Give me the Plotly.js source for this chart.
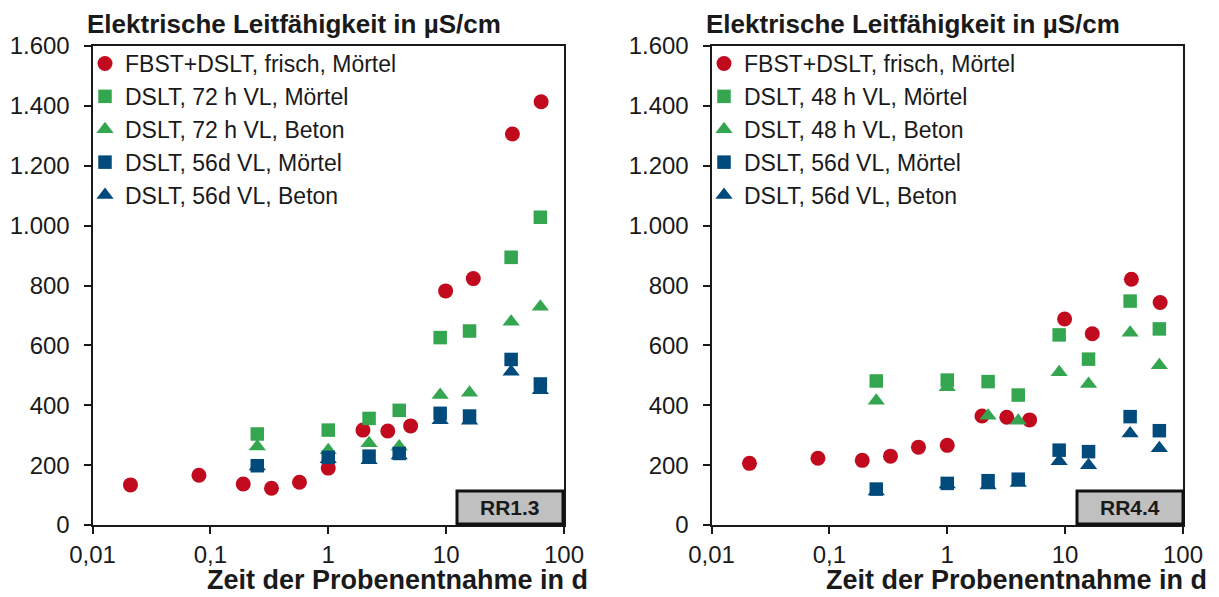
<!DOCTYPE html>
<html>
<head>
<meta charset="utf-8">
<script src="https://cdn.plot.ly/plotly-3.0.1.min.js"></script>
<style>
  html, body { margin: 0; padding: 0; background: #ffffff; }
  #chart { width: 1219px; height: 597px; }
</style>
</head>
<body>
<div id="chart"></div>
<script>
// ---------- data ----------
const chartTitle = "Elektrische Leitfähigkeit in µS/cm";
const xAxisTitle = "Zeit der Probenentnahme in d";
const panelLabels = ["RR1.3", "RR4.4"];

const xTickVals = [0.01, 0.1, 1, 10, 100];
const xTickText = ["0,01", "0,1", "1", "10", "100"];
const yTickVals = [0, 200, 400, 600, 800, 1000, 1200, 1400, 1600];
const yTickText = ["0", "200", "400", "600", "800", "1.000", "1.200", "1.400", "1.600"];

// sampling times in days
const xFresh = [0.021, 0.08, 0.19, 0.33, 0.57, 1, 1.97, 3.2, 5, 9.9, 17, 36.5, 64];
const xStored = [0.25, 1, 2.22, 4, 8.9, 15.8, 35.6, 63];

// left panel: RR1.3
const namesLeft = ["FBST+DSLT, frisch, Mörtel", "DSLT, 72 h VL, Mörtel", "DSLT, 72 h VL, Beton",
                   "DSLT, 56d VL, Mörtel", "DSLT, 56d VL, Beton"];
const leftFreshMortar   = [134, 166, 137, 123, 143, 190, 317, 314, 331, 782, 823, 1306, 1414];
const left72hMortar     = [304, 317, 356, 383, 626, 648, 894, 1028];
const left72hConcrete   = [262, 250, 273, 262, 434, 442, 679, 729];
const left56dMortar     = [198, 226, 230, 239, 373, 364, 553, 471];
const left56dConcrete   = [195, 220, 216, 232, 350, 348, 512, 450];

// right panel: RR4.4
const namesRight = ["FBST+DSLT, frisch, Mörtel", "DSLT, 48 h VL, Mörtel", "DSLT, 48 h VL, Beton",
                    "DSLT, 56d VL, Mörtel", "DSLT, 56d VL, Beton"];
const rightFreshMortar  = [206, 223, 216, 230, 260, 266, 364, 360, 351, 688, 639, 821, 743];
const right48hMortar    = [481, 484, 479, 434, 635, 554, 748, 655];
const right48hConcrete  = [415, 460, 365, 348, 510, 471, 642, 534];
const right56dMortar    = [120, 139, 148, 153, 250, 245, 362, 315];
const right56dConcrete  = [112, 135, 132, 140, 213, 200, 306, 256];

// ---------- styling ----------
const RED = "#c20a1f", GREEN = "#33a64f", BLUE = "#004a7c";
const FONT = "Liberation Sans, Arial, sans-serif";
const W = 1219, H = 597;
const px = v => v / W;          // pixel -> paper x
const py = v => (H - v) / H;    // pixel -> paper y

const styles = [
  {symbol: "circle", color: RED, size: 15},
  {symbol: "square", color: GREEN, size: 13.5},
  {symbol: "triangle-up", color: GREEN, size: 15},
  {symbol: "square", color: BLUE, size: 13.5},
  {symbol: "triangle-up", color: BLUE, size: 15}
];

function mk(x, y, name, st, xa, ya, leg) {
  return {
    type: "scatter", mode: "markers", x: x, y: y, name: name,
    xaxis: xa, yaxis: ya, legend: leg,
    marker: {symbol: st.symbol, color: st.color, size: st.size, line: {width: 0}},
    hoverinfo: "x+y+name"
  };
}

const leftSeries = [[xFresh, leftFreshMortar], [xStored, left72hMortar], [xStored, left72hConcrete],
                    [xStored, left56dMortar], [xStored, left56dConcrete]];
const rightSeries = [[xFresh, rightFreshMortar], [xStored, right48hMortar], [xStored, right48hConcrete],
                     [xStored, right56dMortar], [xStored, right56dConcrete]];

const traces = [];
leftSeries.forEach((s, i) => traces.push(mk(s[0], s[1], namesLeft[i], styles[i], "x", "y", "legend")));
rightSeries.forEach((s, i) => traces.push(mk(s[0], s[1], namesRight[i], styles[i], "x2", "y2", "legend2")));

const yDomain = [py(525), py(46)];

function xAxis(domain, anchor) {
  return {
    type: "log", range: [-2, 2], domain: domain, anchor: anchor,
    tickmode: "array", tickvals: xTickVals, ticktext: xTickText,
    ticks: "outside", ticklen: 7, tickwidth: 2, tickcolor: "#1a1a1a",
    showline: true, linecolor: "#1a1a1a", linewidth: 2, mirror: true,
    showgrid: false, zeroline: false,
    tickfont: {family: FONT, size: 24, color: "#1a1a1a"},
    ticklabelstandoff: 0, fixedrange: true
  };
}
function yAxis(anchor) {
  return {
    range: [0, 1600], domain: yDomain, anchor: anchor,
    tickmode: "array", tickvals: yTickVals, ticktext: yTickText,
    ticks: "outside", ticklen: 7, tickwidth: 2, tickcolor: "#1a1a1a",
    showline: true, linecolor: "#1a1a1a", linewidth: 2, mirror: true,
    showgrid: false, zeroline: false,
    tickfont: {family: FONT, size: 24, color: "#1a1a1a"},
    ticklabelstandoff: 9, fixedrange: true
  };
}

function legendAt(xLeftPx) {
  return {
    x: px(xLeftPx), y: py(42), xanchor: "left", yanchor: "top",
    xref: "paper", yref: "paper",
    bgcolor: "rgba(0,0,0,0)", borderwidth: 0,
    font: {family: FONT, size: 23, color: "#1a1a1a"},
    itemwidth: 30, tracegroupgap: 0
  };
}

const layout = {
  width: W, height: H,
  margin: {l: 0, r: 0, t: 0, b: 0},
  paper_bgcolor: "#ffffff", plot_bgcolor: "#ffffff",
  showlegend: true,
  xaxis: xAxis([px(92.5), px(564)], "y"),
  yaxis: yAxis("x"),
  xaxis2: xAxis([px(711.5), px(1183)], "y2"),
  yaxis2: yAxis("x2"),
  legend: legendAt(85),
  legend2: legendAt(704),
  shapes: [
    {type: "rect", xref: "paper", yref: "paper", x0: px(457), x1: px(563), y0: py(524), y1: py(491),
     fillcolor: "#c0c0c0", line: {color: "#111111", width: 3}, layer: "above"},
    {type: "rect", xref: "paper", yref: "paper", x0: px(1077), x1: px(1183), y0: py(524), y1: py(491),
     fillcolor: "#c0c0c0", line: {color: "#111111", width: 3}, layer: "above"}
  ],
  annotations: [
    {text: "<b>" + chartTitle + "</b>", xref: "paper", yref: "paper", x: px(85), y: py(24),
     xanchor: "left", yanchor: "middle", showarrow: false,
     font: {family: FONT, size: 26, color: "#1a1a1a"}},
    {text: "<b>" + chartTitle + "</b>", xref: "paper", yref: "paper", x: px(704), y: py(24),
     xanchor: "left", yanchor: "middle", showarrow: false,
     font: {family: FONT, size: 26, color: "#1a1a1a"}},
    {text: "<b>" + xAxisTitle + "</b>", xref: "paper", yref: "paper", x: px(397), y: py(580),
     xanchor: "center", yanchor: "middle", showarrow: false,
     font: {family: FONT, size: 27, color: "#1a1a1a"}},
    {text: "<b>" + xAxisTitle + "</b>", xref: "paper", yref: "paper", x: px(1016), y: py(580),
     xanchor: "center", yanchor: "middle", showarrow: false,
     font: {family: FONT, size: 27, color: "#1a1a1a"}},
    {text: "<b>" + panelLabels[0] + "</b>", xref: "paper", yref: "paper", x: px(510), y: py(507.5),
     xanchor: "center", yanchor: "middle", showarrow: false,
     font: {family: FONT, size: 21, color: "#1a1a1a"}},
    {text: "<b>" + panelLabels[1] + "</b>", xref: "paper", yref: "paper", x: px(1130), y: py(507.5),
     xanchor: "center", yanchor: "middle", showarrow: false,
     font: {family: FONT, size: 21, color: "#1a1a1a"}}
  ]
};

Plotly.newPlot("chart", traces, layout, {displayModeBar: false, staticPlot: true});
</script>
</body>
</html>
